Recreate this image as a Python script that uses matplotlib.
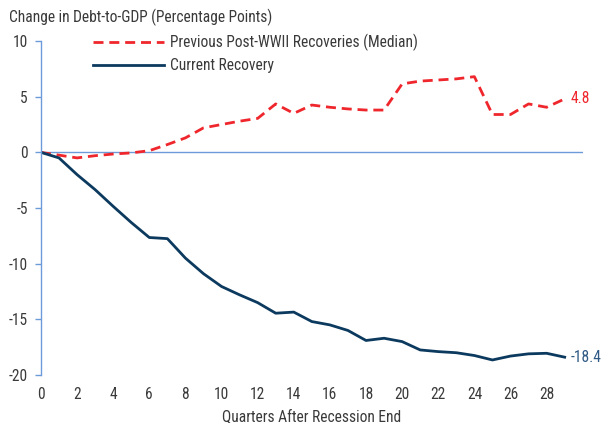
import matplotlib
matplotlib.use("Agg")
from matplotlib import pyplot as plt
from matplotlib import font_manager

quarters = list(range(30))
previous = [0, -0.25, -0.5, -0.3, -0.15, -0.05, 0.15, 0.7, 1.3, 2.2, 2.5, 2.8, 3.05,
            4.35, 3.5, 4.25, 4.05, 3.9, 3.8, 3.8, 6.15, 6.4, 6.5, 6.6, 6.8,
            3.4, 3.4, 4.35, 4.05, 4.8]
current = [0, -0.5, -2.0, -3.35, -4.85, -6.3, -7.65, -7.75, -9.5, -10.9, -12.05,
           -12.8, -13.5, -14.45, -14.35, -15.2, -15.5, -16.0, -16.9, -16.7, -17.0,
           -17.75, -17.9, -18.0, -18.25, -18.65, -18.3, -18.1, -18.05, -18.4]
xticks = list(range(0, 29, 2))
yticks = [-20, -15, -10, -5, 0, 5, 10]

# narrow font like the reference (condensed face)
names = set(f.name for f in font_manager.fontManager.ttflist)
fam = None
for name in ["Roboto Condensed", "Liberation Sans Narrow", "Open Sans Condensed"]:
    if name in names:
        fam = name
        break
if fam is None:
    for f in font_manager.fontManager.ttflist:
        if ("Condensed" in f.fname or "Narrow" in f.fname) and f.style == "normal" and f.weight == 400:
            font_manager.fontManager.addfont(f.fname)
            fam = f.name
            break
plt.rcParams['font.family'] = [fam, 'DejaVu Sans'] if fam else ['DejaVu Sans']
plt.rcParams['axes.unicode_minus'] = False

red = "#ef272d"
navy = "#0c3a5f"
axcol = "#6b9bd8"
txt = "#3a3a3a"
fs = 11.2

fig = plt.figure(figsize=(6.02, 4.23), dpi=100)
ax = fig.add_axes([0.068, 0.1135, 0.9, 0.7895])

ax.plot(quarters, previous, color=red, lw=2.0, linestyle=(0, (3.6, 2.1)),
        label="Previous Post-WWII Recoveries (Median)")
ax.plot(quarters, current, color=navy, lw=2.0, label="Current Recovery")
ax.axhline(0, color=axcol, lw=1.0, zorder=0)

ax.set_xlim(0, 30)
ax.set_ylim(-20, 10)
ax.set_xticks(xticks)
ax.set_yticks(yticks)
ax.tick_params(axis="x", length=0, pad=9, labelsize=fs, colors=txt)
ax.tick_params(axis="y", length=4.3, width=1, color=axcol, pad=5, labelsize=fs, labelcolor=txt)
for s in ["top", "right", "bottom"]:
    ax.spines[s].set_visible(False)
ax.spines["left"].set_color(axcol)
ax.spines["left"].set_linewidth(1.0)

ax.set_xlabel("Quarters After Recession End", fontsize=fs, color=txt, labelpad=5)
fig.text(0.015, 0.96, "Change in Debt-to-GDP (Percentage Points)", fontsize=fs,
         color=txt, va="center", ha="left")

ax.annotate("4.8", (quarters[-1], previous[-1]), xytext=(4, 0), textcoords="offset points",
            color=red, fontsize=fs, va="center", ha="left", annotation_clip=False)
ax.annotate("-18.4", (quarters[-1], current[-1]), xytext=(4, 0), textcoords="offset points",
            color="#2f5a85", fontsize=fs, va="center", ha="left", annotation_clip=False)

leg = ax.legend(loc="upper left", bbox_to_anchor=(0.07, 1.063), frameon=False,
                fontsize=fs, handlelength=4.55, handletextpad=0.4, labelspacing=0.43)
for t in leg.get_texts():
    t.set_color(txt)

plt.savefig("out.png", dpi=100)
